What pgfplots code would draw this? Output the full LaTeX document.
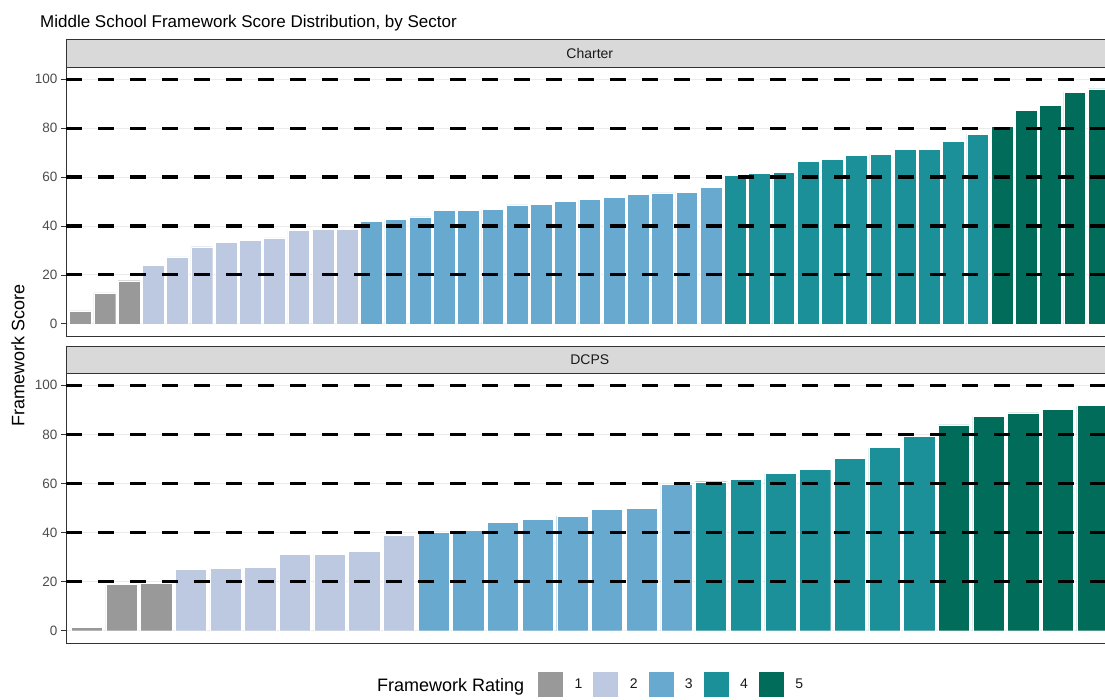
\documentclass[border=0pt]{standalone}
\usepackage{pgfplots}
\pgfplotsset{compat=1.18}
\usepackage{fontspec}
\setmainfont{Liberation Sans}
\definecolor{r1}{HTML}{999999}
\definecolor{r2}{HTML}{BDC9E1}
\definecolor{r3}{HTML}{67A9CF}
\definecolor{r4}{HTML}{1C9099}
\definecolor{r5}{HTML}{016C59}
\definecolor{stripfill}{HTML}{D9D9D9}
\definecolor{grey20}{HTML}{333333}
\definecolor{grey30}{HTML}{4D4D4D}
\definecolor{grey10}{HTML}{1A1A1A}
\definecolor{gridc}{HTML}{EBEBEB}
\pgfplotsset{
  panel/.style={
    scale only axis, width=1039pt,
    ymin=-5, ymax=105, ytick={0,20,...,100}, xtick=\empty,
    ymajorgrids, grid style={gridc, line width=0.8pt},
    axis x line*=bottom, axis y line*=left,
    axis line style={grey20, line width=0.7pt},
    tick align=outside, major tick length=5pt,
    ytick style={grey20, line width=0.7pt},
    /pgf/number format/assume math mode=true,
    yticklabel style={font=\fontsize{13.5}{16}\selectfont, text=grey30},
    clip=true,
  },
  bars/.style={ybar, bar width=0.9, bar shift=0pt, fill=#1, draw=white, line width=0.4pt,
    legend image code/.code={\fill[fill=#1] (0pt,-13pt) rectangle (26pt,13pt);}},
  hl/.style={black, line width=3.2pt, dash pattern=on 16pt off 16pt, forget plot},
}
\begin{document}
\begin{tikzpicture}
\path[use as bounding box, clip] (0pt,0pt) rectangle (1105pt,-700pt);
\fill[white] (0pt,0pt) rectangle (1105pt,-700pt);
% Charter panel
\begin{axis}[panel, at={(66pt,-336pt)}, anchor=south west, height=269pt,
  xmin=0.4, xmax=43.25]
\addplot[bars=r1] coordinates {(1,5.3) (2,12.6) (3,17.6)};
\addplot[bars=r2] coordinates {(4,23.9) (5,27.4) (6,31.5) (7,33.2) (8,34.1) (9,35.1) (10,38.2) (11,38.5) (12,38.6)};
\addplot[bars=r3] coordinates {(13,41.9) (14,42.7) (15,43.7) (16,46.5) (17,46.5) (18,46.8) (19,48.6) (20,48.7) (21,50.1) (22,51.0) (23,51.6) (24,52.8) (25,53.5) (26,53.8) (27,55.8)};
\addplot[bars=r4] coordinates {(28,60.7) (29,61.5) (30,61.9) (31,66.3) (32,67.3) (33,68.9) (34,69.4) (35,71.2) (36,71.4) (37,74.6) (38,77.5)};
\addplot[bars=r5] coordinates {(39,80.8) (40,87.2) (41,89.2) (42,94.7) (43,96.1)};
\addplot[hl] coordinates {(0.4,20) (50,20)};
\addplot[hl] coordinates {(0.4,40) (50,40)};
\addplot[hl] coordinates {(0.4,60) (50,60)};
\addplot[hl] coordinates {(0.4,80) (50,80)};
\addplot[hl] coordinates {(0.4,100) (50,100)};
\end{axis}
% DCPS panel
\begin{axis}[panel, at={(66pt,-643pt)}, anchor=south west, height=270pt,
  xmin=0.4, xmax=30.36,
  legend columns=-1,
  legend style={at={(0.4533,-0.1519)}, anchor=west, draw=none, fill=none, inner sep=0pt,
    font=\fontsize{14}{16}\selectfont, text=grey10, nodes={inner sep=0pt},
    /tikz/every odd column/.append style={column sep=11pt},
    /tikz/every even column/.append style={column sep=10pt}}]
\addplot[bars=r1] coordinates {(1,1.5) (2,18.8) (3,19.2)};
\addlegendentry{1}
\addplot[bars=r2] coordinates {(4,25.0) (5,25.5) (6,25.7) (7,31.0) (8,31.2) (9,32.4) (10,39.1)};
\addlegendentry{2}
\addplot[bars=r3] coordinates {(11,40.3) (12,41.0) (13,44.1) (14,45.3) (15,46.7) (16,49.4) (17,50.0) (18,59.5)};
\addlegendentry{3}
\addplot[bars=r4] coordinates {(19,60.7) (20,61.7) (21,64.0) (22,65.7) (23,70.2) (24,74.6) (25,79.2)};
\addlegendentry{4}
\addplot[bars=r5] coordinates {(26,83.9) (27,87.2) (28,88.8) (29,90.2) (30,91.8)};
\addlegendentry{5}
\addplot[hl] coordinates {(0.4,20) (40,20)};
\addplot[hl] coordinates {(0.4,40) (40,40)};
\addplot[hl] coordinates {(0.4,60) (40,60)};
\addplot[hl] coordinates {(0.4,80) (40,80)};
\addplot[hl] coordinates {(0.4,100) (40,100)};
\end{axis}
% strips
\filldraw[fill=stripfill, draw=grey20, line width=0.7pt] (66pt,-39pt) rectangle (1120pt,-67pt);
\node[font=\fontsize{14}{16}\selectfont, text=grey10] at (589.8pt,-53.3pt) {Charter};
\filldraw[fill=stripfill, draw=grey20, line width=0.7pt] (66pt,-346pt) rectangle (1120pt,-373pt);
\node[font=\fontsize{14}{16}\selectfont, text=grey10] at (589.8pt,-359.5pt) {DCPS};
% titles
\node[anchor=base west, inner sep=0pt, font=\fontsize{17}{20}\selectfont, text=black] at (40pt,-27.3pt) {Middle School Framework Score Distribution, by Sector};
\node[rotate=90, font=\fontsize{18}{21}\selectfont, text=black] at (18pt,-355pt) {Framework Score};
\node[anchor=base west, inner sep=0pt, font=\fontsize{18}{21}\selectfont, text=black] at (377pt,-691.5pt) {Framework Rating};
\end{tikzpicture}
\end{document}
